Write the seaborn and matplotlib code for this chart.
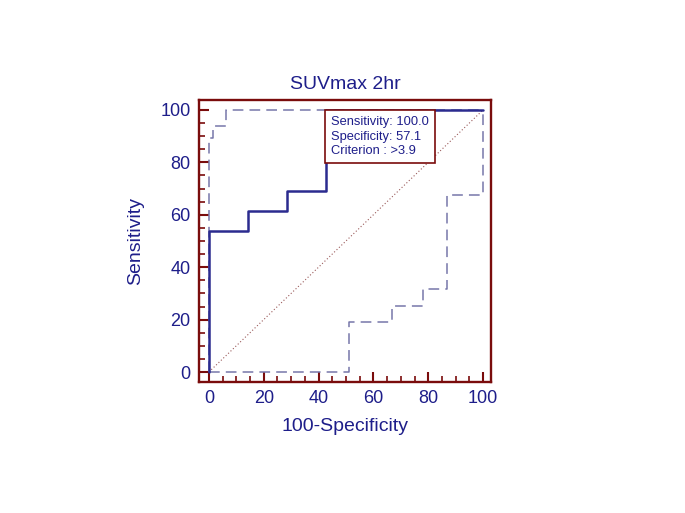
import numpy as np
import pandas as pd
import matplotlib
matplotlib.use('Agg')
import matplotlib.pyplot as plt
from matplotlib.ticker import MultipleLocator
import seaborn as sns

# ROC curve data (100-Specificity, Sensitivity)
roc_x = [0, 0, 14.3, 14.3, 28.6, 28.6, 42.9, 42.9, 100]
roc_y = [0, 53.8, 53.8, 61.5, 61.5, 69.2, 69.2, 100, 100]

# upper confidence bound
upper_x = [0, 0, 1.5, 1.5, 6.1, 6.1, 100]
upper_y = [0, 89.3, 89.3, 93.9, 93.9, 100, 100]

# lower confidence bound
lower_x = [0, 51.2, 51.2, 66.9, 66.9, 78.2, 78.2, 87.0, 87.0, 100, 100]
lower_y = [0, 0, 19.2, 19.2, 25.3, 25.3, 31.7, 31.7, 67.6, 67.6, 100]

diag = [0, 100]
ticks = [0, 20, 40, 60, 80, 100]

navy = '#1e1e8a'
maroon = '#7a0c0c'
dashcol = '#7676aa'

sns.set_style('white')
plt.rcParams['font.family'] = ['Liberation Sans', 'DejaVu Sans']

fig = plt.figure(figsize=(6.85, 5.13), dpi=100)
ax = fig.add_axes([0.2905, 0.2554, 0.4263, 0.5497])

roc = pd.DataFrame({'x': roc_x, 'y': roc_y})
up = pd.DataFrame({'x': upper_x, 'y': upper_y})
lo = pd.DataFrame({'x': lower_x, 'y': lower_y})

sns.lineplot(data=up, x='x', y='y', sort=False, estimator=None, ax=ax,
             color=dashcol, linewidth=1.1, linestyle=(0, (7, 4)))
sns.lineplot(data=lo, x='x', y='y', sort=False, estimator=None, ax=ax,
             color=dashcol, linewidth=1.1, linestyle=(0, (7, 4)))
sns.lineplot(x=diag, y=diag, ax=ax, color='#9a5a5a', linewidth=0.8,
             linestyle=(0, (1, 2)))
sns.lineplot(data=roc, x='x', y='y', sort=False, estimator=None, ax=ax,
             color='#2b2b8f', linewidth=1.8)

ax.set_xlim(-3.6, 102.9)
ax.set_ylim(-3.8, 103.8)
ax.set_xticks(ticks)
ax.set_yticks(ticks)
ax.xaxis.set_minor_locator(MultipleLocator(5))
ax.yaxis.set_minor_locator(MultipleLocator(5))
ax.tick_params(which='major', direction='in', length=7, width=1.5, color=maroon,
               labelcolor=navy, labelsize=13, pad=6)
ax.tick_params(which='minor', direction='in', length=4, width=1.2, color=maroon)
ax.tick_params(left=True, bottom=True, which='both')

for s in ax.spines.values():
    s.set_color(maroon)
    s.set_linewidth(1.7)

ax.set_xlabel('100-Specificity', color=navy, fontsize=14, labelpad=8)
ax.set_ylabel('Sensitivity', color=navy, fontsize=14, labelpad=12)
ax.set_title('SUVmax 2hr', color=navy, fontsize=14, pad=8)

ax.text(44.6, 97.8, 'Sensitivity: 100.0\nSpecificity: 57.1\nCriterion : >3.9',
        color=navy, fontsize=9.3, va='top', ha='left', linespacing=1.32,
        bbox=dict(boxstyle='square,pad=0.45', facecolor='white',
                  edgecolor=maroon, linewidth=1.2))

fig.savefig('out.png', dpi=100)
